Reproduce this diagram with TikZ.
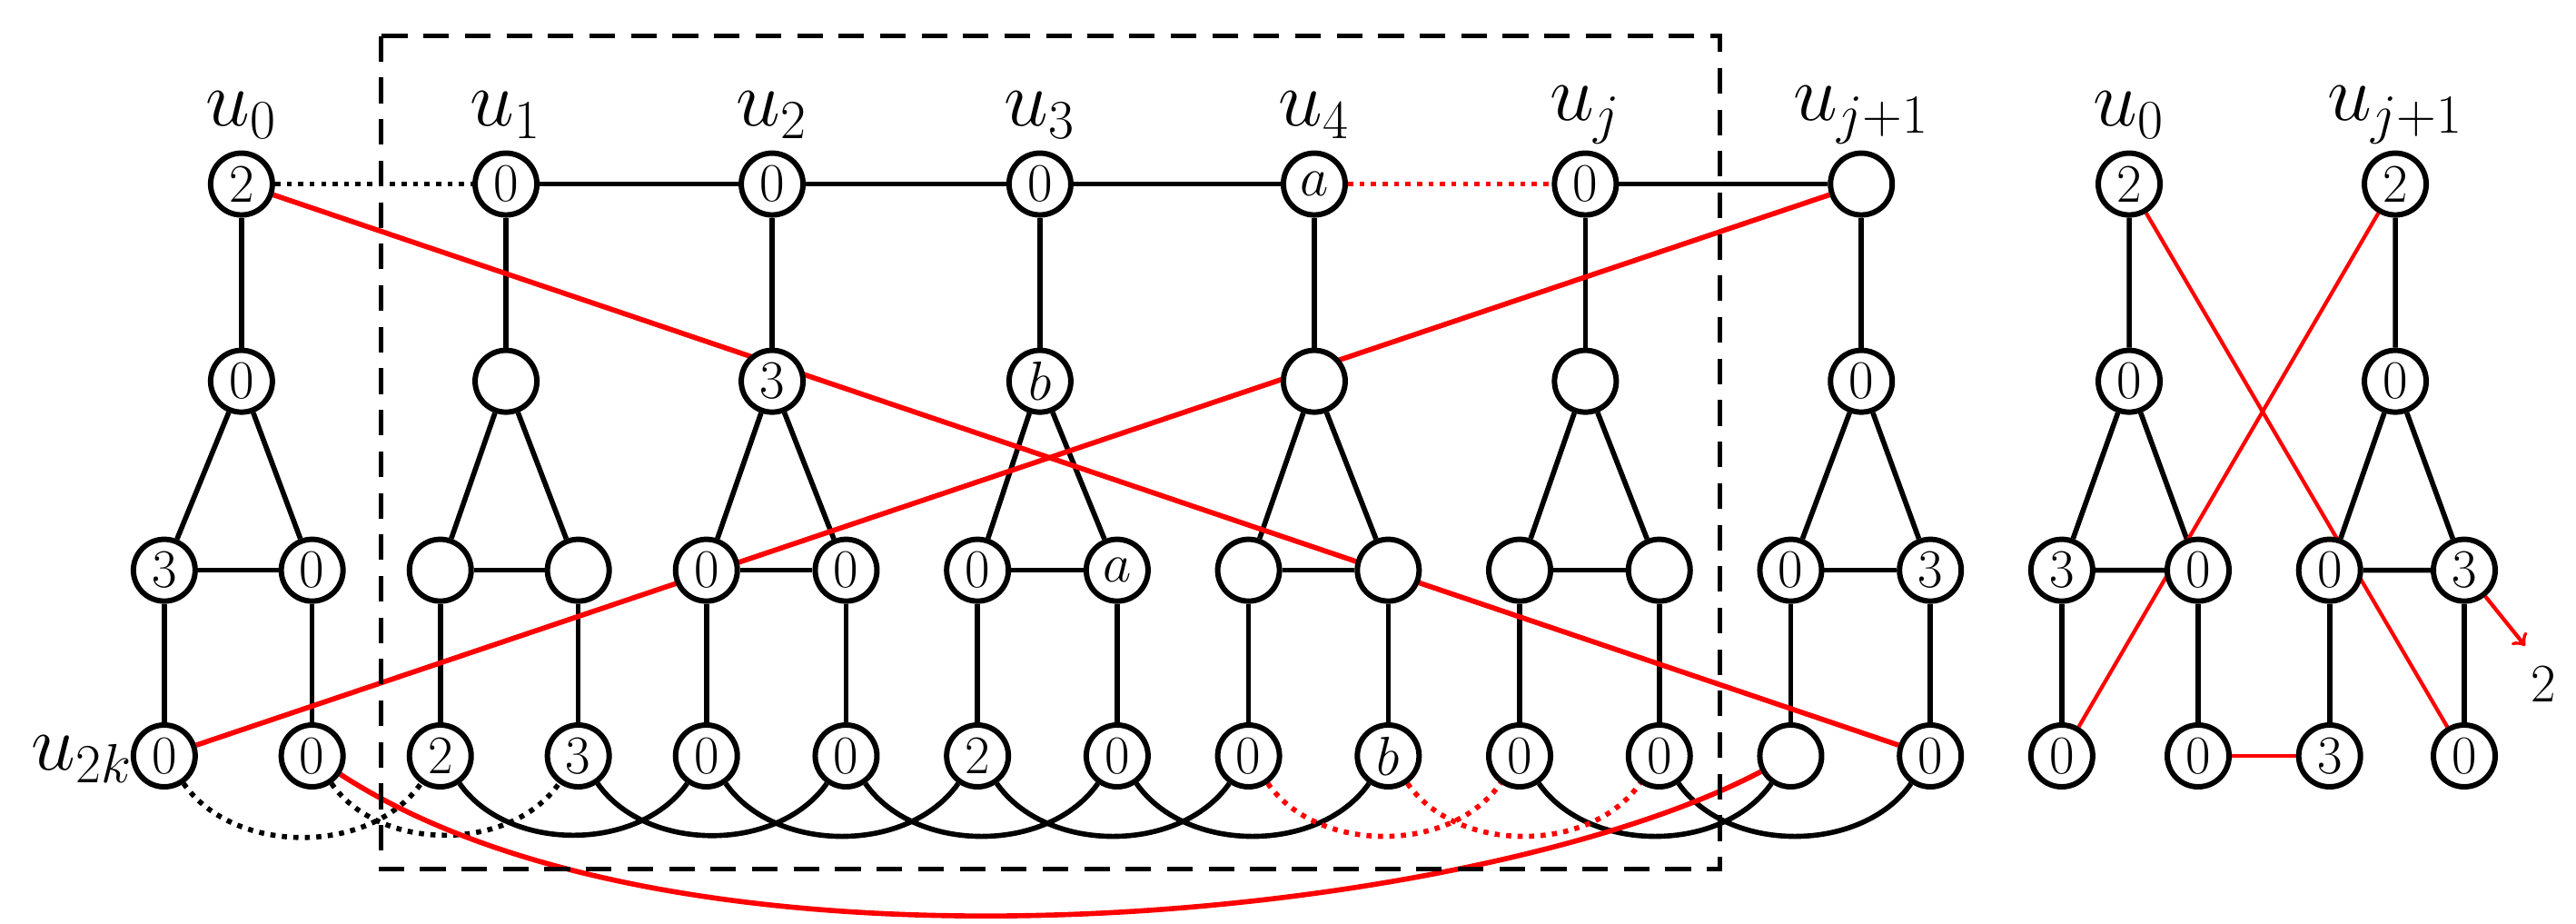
\documentclass[tikz,border=0pt]{standalone}
\usetikzlibrary{backgrounds}
\begin{document}
\begin{tikzpicture}[x=0.018087cm,y=-0.018087cm,
  v/.style={circle,draw,line width=1.7pt,minimum size=0.68cm,inner sep=0pt,font=\fontsize{17}{17}\selectfont,fill=white},
  ed/.style={line width=1.6pt},
  red/.style={draw=red,line width=1.6pt},
  lab/.style={font=\fontsize{26}{26}\selectfont},
  arcd/.style={line width=1.6pt,out=-55,in=-125,looseness=0.95}]
\useasboundingbox (0,0) rectangle (1568,562);
\draw[line width=1.5pt,dash pattern=on 8pt off 5pt] (232,22) rectangle (1047,529);
\def\ty{112}\def\my{232}\def\ry{347}\def\by{460}
\foreach \n/\x/\l in {t0/147/2,t1/308/0,t2/470/0,t3/633/0,t4/800/$a$,tj/965/0,tk/1133/{}}
  \node[v] (\n) at (\x,\ty) {\l};
\foreach \n/\x/\l in {m0/147/0,m1/308/{},m2/470/3,m3/633/$b$,m4/800/{},mj/965/{},mk/1133/0}
  \node[v] (\n) at (\x,\my) {\l};
\foreach \i/\x/\l in {0/100/3,1/190/0,2/268/{},3/352/{},4/430/0,5/515/0,6/595/0,7/680/$a$,8/760/{},9/845/{},10/925/{},11/1010/{},12/1090/0,13/1175/3}
  \node[v] (r\i) at (\x,\ry) {\l};
\foreach \i/\x/\l in {0/100/0,1/190/0,2/268/2,3/352/3,4/430/0,5/515/0,6/595/2,7/680/0,8/760/0,9/845/$b$,10/925/0,11/1010/0,12/1090/{},13/1175/0}
  \node[v] (b\i) at (\x,\by) {\l};
\node[lab] at (147,70) {$u_0$};
\node[lab] at (308,70) {$u_1$};
\node[lab] at (470,70) {$u_2$};
\node[lab] at (633,70) {$u_3$};
\node[lab] at (800,70) {$u_4$};
\node[lab] at (965,70) {$u_j$};
\node[lab] at (1133,70) {$u_{j+1}$};
\node[lab] at (50,462) {$u_{2k}$};
\begin{scope}[on background layer]
\draw[ed,dotted] (t0)--(t1);
\draw[ed] (t1)--(t2)--(t3)--(t4);
\draw[red,dotted] (t4)--(tj);
\draw[ed] (tj)--(tk);
\foreach \a/\i/\j in {0/0/1,1/2/3,2/4/5,3/6/7,4/8/9,j/10/11,k/12/13}{
  \draw[ed] (t\a)--(m\a);
  \draw[ed] (m\a)--(r\i); \draw[ed] (m\a)--(r\j); \draw[ed] (r\i)--(r\j);}
\foreach \i in {0,...,13} \draw[ed] (r\i)--(b\i);
\draw[arcd,dotted] (b0) to (b2);
\draw[arcd,dotted] (b1) to (b3);
\foreach \i/\j in {2/4,3/5,4/6,5/7,6/8,7/9,10/12,11/13} \draw[arcd] (b\i) to (b\j);
\draw[arcd,dotted,draw=red] (b8) to (b10);
\draw[arcd,dotted,draw=red] (b9) to (b11);
\draw[red] (t0)--(b13);
\draw[red] (b0)--(tk);
\draw[red] (b1) .. controls (420,610) and (900,560) .. (b12);
\end{scope}
% right part
\node[v] (T0) at (1296,\ty) {2};
\node[v] (Tk) at (1458,\ty) {2};
\node[lab] at (1296,70) {$u_0$};
\node[lab] at (1458,70) {$u_{j+1}$};
\node[v] (M0) at (1296,\my) {0};
\node[v] (Mk) at (1458,\my) {0};
\foreach \i/\x/\l in {1/1255/3,2/1338/0,3/1418/0,4/1500/3} \node[v] (R\i) at (\x,\ry) {\l};
\foreach \i/\x/\l in {1/1255/0,2/1338/0,3/1418/3,4/1500/0} \node[v] (B\i) at (\x,\by) {\l};
\begin{scope}[on background layer]
\draw[ed] (T0)--(M0)--(R1)--(R2)--(M0);
\draw[ed] (Tk)--(Mk)--(R3)--(R4)--(Mk);
\foreach \i in {1,...,4} \draw[ed] (R\i)--(B\i);
\draw[red,line width=1.2pt] (B2)--(B3);
\draw[red,line width=1.2pt] (T0)--(B4);
\draw[red,line width=1.2pt] (Tk)--(B1);
\end{scope}
\coordinate (A) at (1537,393);
\draw[red,line width=1.2pt,->] (R4)--(A);
\node[font=\fontsize{17}{17}\selectfont] (L2) at (1548,416) {2};
\end{tikzpicture}
\end{document}
